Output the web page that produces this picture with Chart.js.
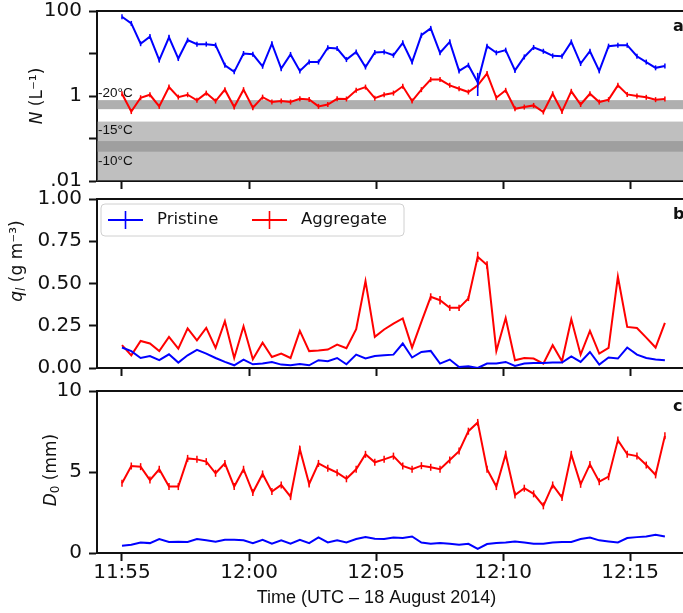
<!DOCTYPE html>
<html>
<head>
<meta charset="utf-8">
<script src="https://cdn.jsdelivr.net/npm/chart.js@4.4.0/dist/chart.umd.min.js"></script>
<style>
  html, body { margin: 0; padding: 0; background: #fff; overflow: hidden; }
  #wrap { position: relative; width: 683px; height: 613px; overflow: hidden; }
  #wrap canvas { position: absolute; left: 0; }
</style>
</head>
<body>
<div id="wrap">
  <canvas id="panel-a" width="700" height="192" style="top:0px"></canvas>
  <canvas id="panel-b" width="700" height="191" style="top:188px"></canvas>
  <canvas id="panel-c" width="700" height="233" style="top:380px"></canvas>
</div>
<script>
// Sample times (UTC, 18 August 2014)
const times = [
  "11:55:00", "11:55:22", "11:55:44", "11:56:06", "11:56:28", "11:56:51", "11:57:13", "11:57:35",
  "11:57:57", "11:58:19", "11:58:41", "11:59:03", "11:59:25", "11:59:47", "12:00:09", "12:00:32",
  "12:00:54", "12:01:16", "12:01:38", "12:02:00", "12:02:22", "12:02:44", "12:03:06", "12:03:28",
  "12:03:50", "12:04:13", "12:04:35", "12:04:57", "12:05:19", "12:05:41", "12:06:03", "12:06:25",
  "12:06:47", "12:07:09", "12:07:31", "12:07:54", "12:08:16", "12:08:38", "12:09:00", "12:09:22",
  "12:09:44", "12:10:06", "12:10:28", "12:10:50", "12:11:12", "12:11:35", "12:11:57", "12:12:19",
  "12:12:41", "12:13:03", "12:13:25", "12:13:47", "12:14:09", "12:14:31", "12:14:53", "12:15:16",
  "12:15:38", "12:16:00", "12:16:22"
];
const tickTimes = ["11:55", "12:00", "12:05", "12:10", "12:15"];

// Number concentration N (L^-1)
const pristineN = [
  73, 51, 17, 25, 7.0, 24, 7.6, 20.6, 16.6, 16.6, 15.7, 5.3, 3.7, 10, 9.6, 5.0,
  17, 4.4, 9.5, 3.9, 6.3, 6.3, 13.6, 13.1, 7.2, 10.9, 4.8, 10.6, 10.9, 9.1, 17.8, 6.3,
  27, 39, 10.4, 18.8, 3.9, 5.3, 2.1, 14.9, 10.4, 12, 4.0, 8.3, 13.9, 11.3, 8.8, 8.6,
  18.8, 5.8, 11.3, 3.9, 14.9, 15.7, 15.7, 8.6, 6.3, 4.6, 5.1
];
const aggregateN = [
  1.13, 0.43, 0.91, 1.07, 0.57, 1.62, 0.94, 1.07, 0.79, 1.17, 0.76, 1.41, 0.55, 1.41, 0.53, 0.94,
  0.72, 0.76, 0.72, 0.86, 0.83, 0.57, 0.63, 0.86, 0.85, 1.36, 1.62, 0.89, 1.07, 1.17, 1.69, 0.76,
  1.41, 2.43, 2.43, 1.78, 1.48, 1.24, 1.78, 3.37, 0.91, 1.36, 0.50, 0.55, 0.60, 0.42, 1.13, 0.43,
  1.29, 0.63, 1.13, 0.72, 0.82, 1.78, 1.09, 1.00, 0.93, 0.82, 0.85
];
const pristineNErr = { 38: [1.0, 3.5] };

// Ice water content q_l (g m^-3)
const pristineQ = [
  0.121, 0.100, 0.059, 0.071, 0.046, 0.081, 0.032, 0.075, 0.107, 0.085, 0.059, 0.036, 0.016, 0.050, 0.022, 0.026,
  0.036, 0.020, 0.016, 0.024, 0.016, 0.046, 0.040, 0.059, 0.022, 0.079, 0.056, 0.071, 0.075, 0.079, 0.145, 0.062,
  0.095, 0.101, 0.026, 0.050, 0.006, 0.010, 0.000, 0.026, 0.026, 0.036, 0.012, 0.026, 0.030, 0.030, 0.032, 0.032,
  0.069, 0.036, 0.095, 0.020, 0.062, 0.056, 0.121, 0.079, 0.059, 0.050, 0.046
];
const aggregateQ = [
  0.135, 0.075, 0.160, 0.145, 0.100, 0.184, 0.115, 0.234, 0.164, 0.237, 0.119, 0.277, 0.059, 0.247, 0.052, 0.150,
  0.065, 0.085, 0.059, 0.220, 0.100, 0.103, 0.109, 0.139, 0.117, 0.230, 0.514, 0.184, 0.228, 0.263, 0.293, 0.121,
  0.273, 0.421, 0.401, 0.356, 0.356, 0.411, 0.658, 0.609, 0.101, 0.296, 0.046, 0.059, 0.056, 0.026, 0.135, 0.040,
  0.289, 0.079, 0.219, 0.085, 0.119, 0.540, 0.243, 0.237, 0.180, 0.121, 0.267
];
const aggregateQErr = {
  33: [0.400, 0.442], 34: [0.376, 0.426], 35: [0.338, 0.374], 36: [0.338, 0.374],
  37: [0.396, 0.426], 38: [0.628, 0.688], 39: [0.587, 0.631]
};

// Median volume diameter D_0 (mm)
const pristineD = [
  0.45, 0.51, 0.65, 0.61, 0.86, 0.68, 0.70, 0.68, 0.86, 0.78, 0.70, 0.82, 0.82, 0.78, 0.61, 0.82,
  0.57, 0.78, 0.57, 0.82, 0.61, 0.96, 0.65, 0.78, 0.65, 0.86, 0.98, 0.88, 0.86, 0.96, 0.92, 1.02,
  0.65, 0.57, 0.61, 0.57, 0.51, 0.57, 0.25, 0.55, 0.61, 0.65, 0.71, 0.65, 0.57, 0.57, 0.65, 0.68,
  0.68, 0.86, 0.96, 0.78, 0.71, 0.65, 0.92, 0.98, 1.02, 1.13, 1.02
];
const aggregateD = [
  4.30, 5.37, 5.33, 4.50, 5.17, 4.10, 4.10, 5.84, 5.78, 5.64, 4.92, 5.53, 4.10, 5.17, 3.73, 4.88,
  3.79, 4.20, 3.48, 6.41, 4.26, 5.53, 5.23, 4.96, 4.58, 5.17, 6.09, 5.60, 5.78, 5.98, 5.37, 5.17,
  5.39, 5.29, 5.17, 5.74, 6.29, 7.52, 8.06, 5.17, 4.10, 6.10, 3.58, 4.00, 3.65, 2.91, 4.20, 3.42,
  6.09, 4.24, 5.47, 4.40, 4.71, 6.97, 6.10, 5.98, 5.43, 4.82, 7.23
];

// Temperature ranges shaded in the N panel
const tempBands = [
  { label: "-20°C", lo: 0.49, hi: 0.80 },
  { label: "-15°C", lo: 0.049, hi: 0.25 },
  { label: "-10°C", lo: 0.001, hi: 0.087 }
];

const BLUE = "#0000ff";
const RED = "#ff0000";
const INK = "#111";
const tickFont = { family: "DejaVu Sans", size: 20, lineHeight: 1 };

function toMinutes(s) {
  const p = s.split(":").map(Number);
  return p[0] * 60 + p[1] + (p[2] || 0) / 60;
}
function fmtTime(v) {
  const h = Math.floor(v / 60), m = Math.round(v - h * 60);
  return `${h}:${String(m).padStart(2, "0")}`;
}

const xs = times.map(toMinutes);
const points = (vals) => vals.map((v, i) => ({ x: xs[i], y: v }));

function series(label, vals, color, tick, errs) {
  return {
    label,
    data: points(vals),
    borderColor: color,
    backgroundColor: color,
    borderWidth: 2,
    tension: 0,
    pointStyle: "line",
    rotation: 90,
    pointRadius: tick,
    pointHoverRadius: tick,
    pointBorderWidth: 1.5,
    pointBorderColor: color,
    errorBars: errs || null,
  };
}

// tick labels must not push the plot area around
function noEdgePadding(s) {
  s.paddingTop = 0;
  s.paddingBottom = 0;
  s.paddingLeft = 0;
  s.paddingRight = 0;
}

function xAxis(height, showLabels) {
  return {
    type: "linear",
    min: toMinutes("11:54:01"),
    max: toMinutes("12:17:26"),
    afterBuildTicks: (s) => { s.ticks = tickTimes.map((t) => ({ value: toMinutes(t) })); },
    afterFit: (s) => { s.height = height; noEdgePadding(s); },
    ticks: {
      display: showLabels, autoSkip: false, maxRotation: 0, padding: 2,
      color: INK, font: tickFont, callback: (v) => fmtTime(v),
    },
    grid: { display: true, drawOnChartArea: false, drawTicks: true, tickLength: 8, tickWidth: 2, tickColor: INK },
    border: { display: true, color: INK, width: 2 },
  };
}

function yAxis(extra) {
  return Object.assign({
    afterFit: (s) => { s.width = 97; noEdgePadding(s); },
    grid: { display: true, drawOnChartArea: false, drawTicks: true, tickLength: 8, tickWidth: 2, tickColor: INK },
    border: { display: true, color: INK, width: 2 },
  }, extra);
}

const bandFills = ["rgba(110,110,110,0.55)", "rgba(128,128,128,0.5)", "rgba(128,128,128,0.5)"];
const bandLabelAt = [1.13, 0.154, 0.0284];

function drawRuns(ctx, runs, cx, cy) {
  // rotated axis title made of styled pieces (italic symbol, sub/superscripts)
  ctx.save();
  ctx.translate(cx, cy);
  ctx.rotate(-Math.PI / 2);
  ctx.fillStyle = INK;
  ctx.textBaseline = "middle";
  let total = 0;
  runs.forEach((r) => { ctx.font = r.font; total += ctx.measureText(r.t).width; });
  let x = -total / 2;
  runs.forEach((r) => {
    ctx.font = r.font;
    ctx.fillText(r.t, x, r.dy || 0);
    x += ctx.measureText(r.t).width;
  });
  ctx.restore();
}

// Shaded bands, error bars, spines, labels and legend
const decor = {
  id: "decor",
  beforeDatasetsDraw(chart, args, o) {
    if (!o.bands) return;
    const { ctx, chartArea: a, scales: { y } } = chart;
    ctx.save();
    o.bands.forEach((b, i) => {
      const top = Math.max(y.getPixelForValue(b.hi), a.top);
      const bot = Math.min(y.getPixelForValue(b.lo), a.bottom);
      ctx.fillStyle = bandFills[i];
      ctx.fillRect(a.left, top, a.right - a.left, bot - top);
    });
    ctx.fillStyle = INK;
    ctx.font = "13.5px 'Liberation Sans'";
    ctx.textBaseline = "middle";
    o.bands.forEach((b, i) => ctx.fillText(b.label, a.left + 1, y.getPixelForValue(bandLabelAt[i])));
    ctx.restore();
  },
  afterDatasetsDraw(chart) {
    const { ctx, scales: { x, y } } = chart;
    ctx.save();
    chart.data.datasets.forEach((ds) => {
      if (!ds.errorBars) return;
      ctx.strokeStyle = ds.borderColor;
      ctx.lineWidth = 1.6;
      Object.entries(ds.errorBars).forEach(([i, [lo, hi]]) => {
        const px = x.getPixelForValue(xs[i]);
        ctx.beginPath();
        ctx.moveTo(px, y.getPixelForValue(lo));
        ctx.lineTo(px, y.getPixelForValue(hi));
        ctx.stroke();
      });
    });
    ctx.restore();
  },
  afterDraw(chart, args, o) {
    const { ctx, chartArea: a } = chart;
    ctx.save();
    ctx.strokeStyle = INK;
    ctx.lineWidth = 2;
    ctx.beginPath();
    ctx.moveTo(a.left - 1, Math.round(a.top));
    ctx.lineTo(a.right, Math.round(a.top));
    ctx.lineTo(a.right, a.bottom);
    ctx.stroke();

    ctx.fillStyle = INK;
    ctx.font = "bold 16px 'DejaVu Sans'";
    ctx.textBaseline = "middle";
    ctx.fillText(o.tag, 673, a.top + 16);

    drawRuns(ctx, o.title.runs, o.title.x, o.title.y);

    if (o.xTitle) {
      ctx.font = "18px 'Liberation Sans'";
      ctx.textAlign = "center";
      ctx.fillText(o.xTitle.text, o.xTitle.x, o.xTitle.y);
      ctx.textAlign = "left";
    }

    if (o.legend) {
      const lx = a.left + 4, ly = a.top + 5, lw = 303, lh = 32, r = 4;
      ctx.beginPath();
      ctx.moveTo(lx + r, ly);
      ctx.arcTo(lx + lw, ly, lx + lw, ly + lh, r);
      ctx.arcTo(lx + lw, ly + lh, lx, ly + lh, r);
      ctx.arcTo(lx, ly + lh, lx, ly, r);
      ctx.arcTo(lx, ly, lx + lw, ly, r);
      ctx.closePath();
      ctx.fillStyle = "rgba(255,255,255,0.8)";
      ctx.fill();
      ctx.strokeStyle = "#d0d0d0";
      ctx.lineWidth = 1;
      ctx.stroke();
      const cy = ly + lh / 2;
      [lx + 7, lx + 151].forEach((hx, i) => {
        const ds = chart.data.datasets[i];
        ctx.strokeStyle = ds.borderColor;
        ctx.lineWidth = 2;
        ctx.beginPath();
        ctx.moveTo(hx, cy);
        ctx.lineTo(hx + 35, cy);
        ctx.stroke();
        ctx.lineWidth = 1.6;
        ctx.beginPath();
        ctx.moveTo(hx + 17.5, cy - 9);
        ctx.lineTo(hx + 17.5, cy + 9);
        ctx.stroke();
        ctx.fillStyle = INK;
        ctx.font = "16.5px 'DejaVu Sans'";
        ctx.fillText(ds.label, hx + 49, cy);
      });
    }
    ctx.restore();
  },
};

const italic = "italic 17px 'DejaVu Sans'";
const upright = "17px 'DejaVu Sans'";
const small = "italic 12px 'DejaVu Sans'";
const smallUp = "12px 'DejaVu Sans'";

function baseOptions() {
  return {
    responsive: false,
    animation: false,
    devicePixelRatio: 1,
    layout: { padding: { top: 11, right: 8, left: 0, bottom: 0 } },
    events: [],
  };
}

// a) number concentration, log scale
const nTickLabels = { 100: "100", 1: "1", 0.01: ".01" };
new Chart(document.getElementById("panel-a"), {
  type: "line",
  data: {
    datasets: [
      series("Pristine", pristineN, BLUE, 2.5, pristineNErr),
      series("Aggregate", aggregateN, RED, 2.5),
    ],
  },
  options: Object.assign(baseOptions(), {
    scales: {
      x: xAxis(11, false),
      y: yAxis({
        type: "logarithmic", min: 0.01, max: 100,
        afterBuildTicks: (s) => { s.ticks = [0.01, 0.1, 1, 10, 100].map((v) => ({ value: v })); },
        ticks: { padding: 7, color: INK, font: tickFont, callback: (v) => nTickLabels[v] || "" },
      }),
    },
    plugins: {
      legend: { display: false },
      tooltip: { enabled: false },
      decor: {
        tag: "a)",
        bands: tempBands,
        title: { x: 38, y: 96, runs: [{ t: "N", font: italic }, { t: " (L⁻¹)", font: upright }] },
      },
    },
  }),
  plugins: [decor],
});

// b) ice water content
new Chart(document.getElementById("panel-b"), {
  type: "line",
  data: {
    datasets: [
      series("Pristine", pristineQ, BLUE, 0),
      series("Aggregate", aggregateQ, RED, 0, aggregateQErr),
    ],
  },
  options: Object.assign(baseOptions(), {
    scales: {
      x: xAxis(11, false),
      y: yAxis({
        type: "linear", min: 0, max: 1,
        afterBuildTicks: (s) => { s.ticks = [0, 0.25, 0.5, 0.75, 1].map((v) => ({ value: v })); },
        ticks: { padding: 7, color: INK, font: tickFont, callback: (v) => v.toFixed(2) },
      }),
    },
    plugins: {
      legend: { display: false },
      tooltip: { enabled: false },
      decor: {
        tag: "b)",
        legend: true,
        title: {
          x: 18, y: 73,
          runs: [{ t: "q", font: italic }, { t: "l", font: small, dy: 4 }, { t: " (g m⁻³)", font: upright }],
        },
      },
    },
  }),
  plugins: [decor],
});

// c) median volume diameter
new Chart(document.getElementById("panel-c"), {
  type: "line",
  data: {
    datasets: [
      series("Pristine", pristineD, BLUE, 0),
      series("Aggregate", aggregateD, RED, 3.5),
    ],
  },
  options: Object.assign(baseOptions(), {
    scales: {
      x: xAxis(60, true),
      y: yAxis({
        type: "linear", min: 0, max: 10,
        afterBuildTicks: (s) => { s.ticks = [0, 5, 10].map((v) => ({ value: v })); },
        ticks: { padding: 7, color: INK, font: tickFont, callback: (v) => String(v) },
      }),
    },
    plugins: {
      legend: { display: false },
      tooltip: { enabled: false },
      decor: {
        tag: "c)",
        title: { x: 52, y: 90, runs: [{ t: "D", font: italic }, { t: "0", font: smallUp, dy: 4 }, { t: " (mm)", font: upright }] },
        xTitle: { text: "Time (UTC – 18 August 2014)", x: 376.5, y: 218 },
      },
    },
  }),
  plugins: [decor],
});
</script>
</body>
</html>
